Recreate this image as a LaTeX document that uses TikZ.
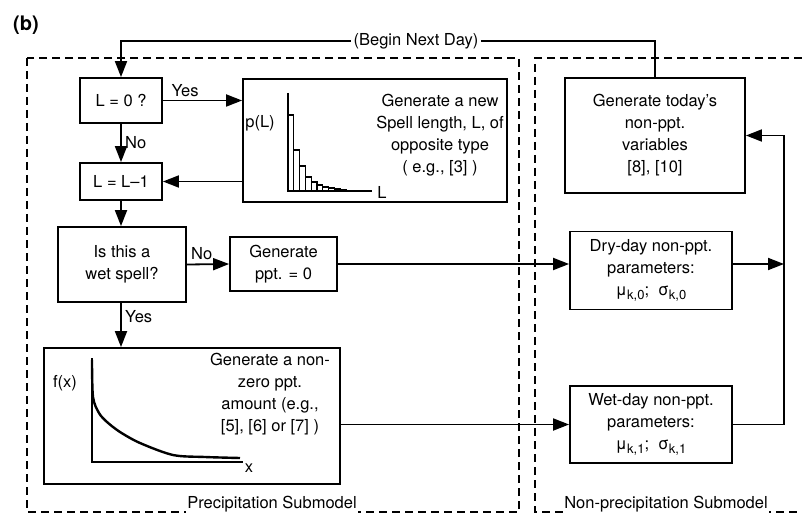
\documentclass[tikz,border=0pt]{standalone}
\usepackage{fontspec}
\setmainfont{TeX Gyre Heros}
\usetikzlibrary{arrows.meta}
\newcommand{\lowsub}[1]{\raisebox{-0.45ex}{\fontsize{13}{13}\selectfont #1}}

\begin{document}
\begin{tikzpicture}[x=1pt,y=-1pt,line width=1.8pt,
	every node/.style={font=\fontsize{16.5}{22}\selectfont},
	flowbox/.style={draw,align=center,inner sep=0pt},
	flow/.style={-{Triangle[length=16pt,width=12pt]}},
	submodel/.style={draw,dash pattern=on 8pt off 5pt,line width=1.3pt},
	tag/.style={fill=white,inner sep=1pt,font=\fontsize{16.5}{20}\selectfont}]
	\useasboundingbox (0,0) rectangle (802,521);
	\node[font=\bfseries\fontsize{20}{24}\selectfont] (panel) at (26,25) {(b)};
	% submodel frames
	\draw[submodel] (27,58) rectangle (519,512);
	\draw[submodel] (802,58) -- (535,58) -- (535,512) -- (802,512);
	\node[tag] (precip) at (272,504) {Precipitation Submodel};
	\node[tag] (nonprecip) at (666,504) {Non-precipitation Submodel};
	% precipitation boxes
	\node[flowbox,minimum width=82pt,minimum height=45pt] (lzero) at (121,100.5) {L = 0 ?};
	\node[flowbox,minimum width=264pt,minimum height=123pt] (spell) at (375,140.5) {};
	\node[align=center] (spelltxt) at (440,135) {Generate a new\\Spell length, L, of\\opposite type\\( e.g., [3] )};
	\node[flowbox,minimum width=82pt,minimum height=37pt] (ldec) at (121,181.5) {L = L\textendash 1};
	\node[flowbox,minimum width=128pt,minimum height=75pt] (wet) at (122,264.5) {Is this a\\wet spell?};
	\node[flowbox,minimum width=107pt,minimum height=54pt] (dry0) at (283.5,264) {Generate\\ppt. = 0};
	\node[flowbox,minimum width=296pt,minimum height=136pt] (amount) at (192,416) {};
	\node[align=center] (amounttxt) at (270,394) {Generate a non-\\zero ppt.\\amount (e.g.,\\{[5], [6] or [7] )}};
	% non-precipitation boxes
	\node[flowbox,minimum width=180pt,minimum height=115pt] (today) at (655,135.5) {Generate today's\\non-ppt.\\variables\\{[8], [10]}};
	\node[flowbox,minimum width=162pt,minimum height=78pt] (drypar) at (651,270.5) {Dry-day non-ppt.\\parameters:\\μ\lowsub{k,0};\ \ σ\lowsub{k,0}};
	\node[flowbox,minimum width=162pt,minimum height=77pt] (wetpar) at (651,424.5) {Wet-day non-ppt.\\parameters:\\μ\lowsub{k,1};\ \ σ\lowsub{k,1}};
	\coordinate (rail) at (784,0);
	% histogram p(L)
	\draw (288,93) -- (288,191) -- (372,191);
	\foreach \h [count=\i from 0] in {76,41,25,14,9,6,4,3,2,1}
		\draw[line width=1.1pt] (288+5.8*\i,191) rectangle ++(5.8,-\h);
	\node (pl) at (260,123) {p(L)};
	\node (lax) at (382,192) {L};
	% density f(x)
	\draw (92,358) -- (92,462) -- (243,462);
	\draw[line width=2.4pt] plot[smooth] coordinates {(92,360) (93,397) (99,413) (107,422) (120,432) (140,443) (173,455) (205,457) (240,458)};
	\node (fx) at (65,383) {f(x)};
	\node (xax) at (249,468) {x};
	% connectors
	\node[fill=white,inner sep=2pt] (begin) at (416,41) {(Begin Next Day)};
	\draw (today.north) |- (begin.east);
	\draw[flow] (begin.west) -| (lzero.north);
	\draw[flow] (lzero.east) -- node[above,pos=0.28]{Yes} (spell.west |- lzero.east);
	\draw[flow] (lzero.south) -- node[right]{No} (ldec.north);
	\draw[flow] (spell.west |- ldec.east) -- (ldec.east);
	\draw[flow] (ldec.south) -- (ldec.south |- wet.north);
	\draw[flow] (wet.east) -- node[above,pos=0.35]{No} (dry0.west);
	\draw[flow] (wet.south -| ldec.south) -- node[right,pos=0.3]{Yes} (ldec.south |- amount.north);
	\draw[flow] (dry0.east) -- (drypar.west |- dry0.east);
	\draw[flow] (amount.east |- wetpar.west) -- (wetpar.west);
	\draw[flow] (drypar.east |- dry0.east) -- (rail |- dry0.east);
	\draw[flow] (wetpar.east) -- (rail |- wetpar.east) |- (today.east);
\end{tikzpicture}
\end{document}
